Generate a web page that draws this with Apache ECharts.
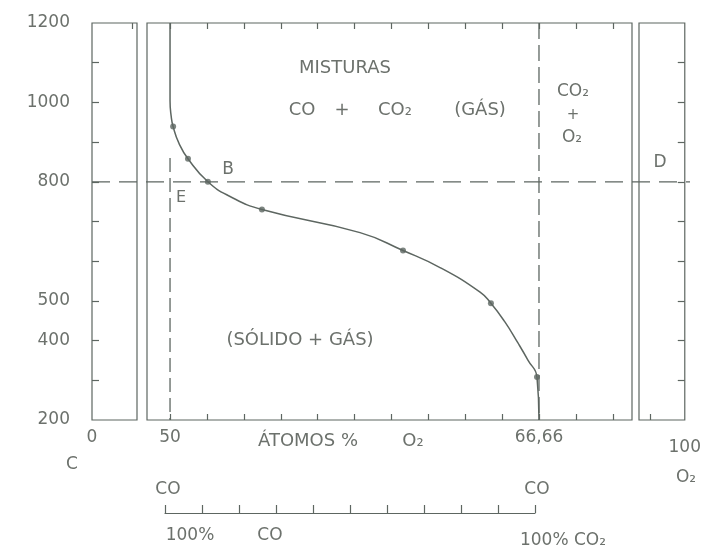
<!DOCTYPE html>
<html>
<head>
<meta charset="utf-8">
<script src="https://cdn.jsdelivr.net/npm/echarts@6/dist/echarts.min.js"></script>
<style>
  html, body { margin: 0; padding: 0; background: #ffffff; }
  #chart { width: 704px; height: 557px; }
</style>
</head>
<body>
<div id="chart"></div>
<script>
// Temperature scale (°C)
const tempMin = 200;
const tempMax = 1200;
const tempTicks = [300, 400, 500, 600, 700, 800, 900, 1000, 1100];
const tempLabels = [200, 400, 500, 800, 1000, 1200];

// Composition scale (atom % O2)
const pctTicks = [50, 51.67, 53.33, 55, 56.67, 58.33, 60, 61.67, 63.33, 65, 66.66, 68.33, 70];
const pctLabels = [50, 66.66];
const lowerTicks = [50, 51.67, 53.33, 55, 56.67, 58.33, 60, 61.67, 63.33, 65, 66.66];

// Boundary curve between (sólido + gás) and the gas mixtures
const curvePct  = [50, 50, 50.05, 50.14, 50.41, 50.81, 51.71, 52.71, 54.15, 58.58, 60.52, 62.19, 64.0, 64.49, 65.12, 65.71, 66.16, 66.57, 66.66];
const curveTemp = [1200, 1004, 966, 939, 896, 858, 800, 763, 730, 672, 627, 584, 522, 494, 447, 394, 351, 308, 200];

// Measured points along the curve
const pointPct  = [50.14, 50.81, 51.71, 54.15, 60.52, 64.49, 66.57];
const pointTemp = [939, 858, 800, 730, 627, 494, 308];

// Reference lines
const isotherm = 800;
const co2Pct = 66.66;
const coPct = 50;
const coLineTop = 860;

const ink = '#5d6661';
const textInk = '#6c716c';
const font = '"DejaVu Sans", "Liberation Sans", sans-serif';

const zip = (a, b) => a.map((v, i) => [v, b[i]]);

const chart = echarts.init(document.getElementById('chart'), null, { renderer: 'canvas' });

const frame = { show: true, borderColor: ink, borderWidth: 1.2, backgroundColor: 'transparent' };
const tickStyle = { color: ink, width: 1.2 };

function txt(text, x, y, size, extra) {
  return Object.assign({
    type: 'text', x: x, y: y,
    style: {
      text: text, fill: textInk, font: (size || 17) + 'px ' + font,
      textAlign: 'center', textVerticalAlign: 'middle'
    }
  }, extra || {});
}

const option = {
  animation: false,
  backgroundColor: '#ffffff',
  grid: [
    Object.assign({ left: 92, width: 45, top: 23, bottom: 137 }, frame),
    Object.assign({ left: 147, right: 72, top: 23, bottom: 137 }, frame),
    Object.assign({ left: 639, right: 14, top: 23, bottom: 137 }, frame),
    { left: 92, right: 14, top: 23, bottom: 137, show: false },
    { left: 165, right: 169, top: 500, height: 13, show: false }
  ],
  xAxis: [
    { gridIndex: 0, type: 'value', min: 0, max: 1, position: 'bottom',
      axisLine: { show: false }, splitLine: { show: false }, axisTick: { show: false },
      axisLabel: { customValues: [0], margin: 9, color: textInk, fontSize: 17, fontFamily: font, formatter: v => '0' } },
    { gridIndex: 0, type: 'value', min: 0, max: 1, position: 'top',
      axisLine: { show: false }, splitLine: { show: false }, axisLabel: { show: false },
      axisTick: { customValues: [0.9], inside: true, length: 6, lineStyle: tickStyle } },
    { gridIndex: 1, type: 'value', min: 48.96, max: 70.86, position: 'bottom',
      axisLine: { show: false }, splitLine: { show: false },
      axisTick: { customValues: pctTicks, inside: true, length: 6, lineStyle: tickStyle },
      axisLabel: { customValues: pctLabels, margin: 9, color: textInk, fontSize: 17, fontFamily: font,
        formatter: v => (Math.abs(v - 66.66) < 0.01 ? '66,66' : String(Math.round(v))) } },
    { gridIndex: 1, type: 'value', min: 48.96, max: 70.86, position: 'top',
      axisLine: { show: false }, splitLine: { show: false }, axisLabel: { show: false },
      axisTick: { customValues: pctTicks, inside: true, length: 6, lineStyle: tickStyle } },
    { gridIndex: 2, type: 'value', min: 99, max: 100, position: 'bottom',
      axisLine: { show: false }, splitLine: { show: false },
      axisTick: { customValues: [99.25], inside: true, length: 6, lineStyle: tickStyle },
      axisLabel: { customValues: [100], margin: 19, color: textInk, fontSize: 17, fontFamily: font, formatter: v => '100' } },
    { gridIndex: 3, type: 'value', min: 0, max: 1, show: false },
    { gridIndex: 4, type: 'value', min: 50, max: 66.66, position: 'bottom',
      axisLine: { show: true, lineStyle: tickStyle }, splitLine: { show: false }, axisLabel: { show: false },
      axisTick: { customValues: lowerTicks, inside: true, length: 8, lineStyle: tickStyle } }
  ],
  yAxis: [
    { gridIndex: 0, type: 'value', min: tempMin, max: tempMax, position: 'left',
      axisLine: { show: false }, splitLine: { show: false },
      axisTick: { customValues: tempTicks, inside: true, length: 7, lineStyle: tickStyle },
      axisLabel: { customValues: tempLabels, margin: 22, color: textInk, fontSize: 17, fontFamily: font,
        formatter: v => String(v) } },
    { gridIndex: 1, type: 'value', min: tempMin, max: tempMax, show: false },
    { gridIndex: 2, type: 'value', min: tempMin, max: tempMax, position: 'right',
      axisLine: { show: false }, splitLine: { show: false }, axisLabel: { show: false },
      axisTick: { customValues: tempTicks, inside: true, length: 7, lineStyle: tickStyle } },
    { gridIndex: 3, type: 'value', min: tempMin, max: tempMax, show: false },
    { gridIndex: 4, type: 'value', min: 0, max: 1, show: false }
  ],
  series: [
    { type: 'line', xAxisIndex: 2, yAxisIndex: 1, data: zip(curvePct, curveTemp),
      smooth: 0.5, showSymbol: false,
      lineStyle: { color: ink, width: 1.5 } },
    { type: 'scatter', xAxisIndex: 2, yAxisIndex: 1, data: zip(pointPct, pointTemp),
      symbolSize: 6, itemStyle: { color: ink } },
    { type: 'line', xAxisIndex: 2, yAxisIndex: 1, data: [[co2Pct, tempMax], [co2Pct, tempMin]],
      showSymbol: false, lineStyle: { color: ink, width: 1.3, type: [16, 6] } },
    { type: 'line', xAxisIndex: 2, yAxisIndex: 1, data: [[coPct, coLineTop], [coPct, tempMin]],
      showSymbol: false, lineStyle: { color: ink, width: 1.3, type: [14, 6] } },
    { type: 'line', xAxisIndex: 5, yAxisIndex: 3, data: [[0, isotherm], [1, isotherm]],
      showSymbol: false, lineStyle: { color: ink, width: 1.2, type: [18, 9] } }
  ],
  graphic: [
    txt('MISTURAS', 345, 68, 18),
    txt('CO', 302, 110, 18),
    txt('+', 342, 110, 18),
    txt('CO₂', 395, 110, 18),
    txt('(GÁS)', 480, 110, 18),
    txt('CO₂', 573, 92, 17),
    txt('+', 573, 115, 15),
    txt('O₂', 572, 138, 17),
    txt('D', 660, 163, 17),
    txt('B', 228, 170, 17),
    txt('E', 181, 198, 16),
    txt('(SÓLIDO + GÁS)', 300, 340, 18),
    txt('C', 72, 465, 17),
    txt('ÁTOMOS %', 308, 441, 18),
    txt('O₂', 413, 441, 18),
    txt('O₂', 686, 478, 17),
    txt('CO', 168, 490, 17),
    txt('CO', 537, 490, 17),
    txt('100%', 190, 536, 17),
    txt('CO', 270, 536, 17),
    txt('100% CO₂', 563, 541, 17)
  ]
};

chart.setOption(option);
</script>
</body>
</html>
